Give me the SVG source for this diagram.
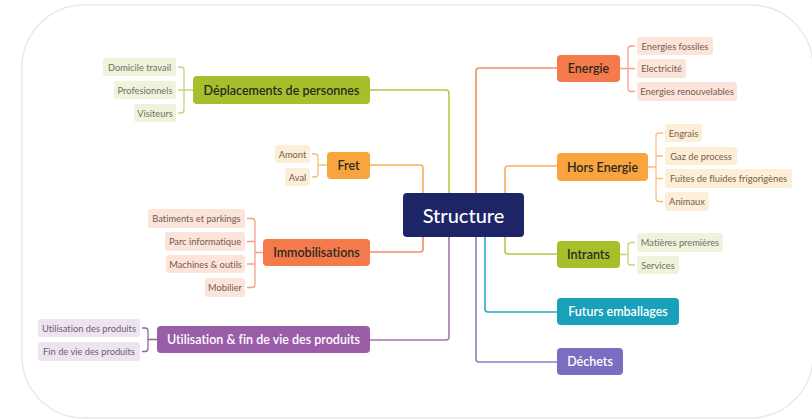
<svg xmlns="http://www.w3.org/2000/svg" width="812" height="419" viewBox="0 0 812 419">
<style>
text{font-family:Lato,"Liberation Sans",sans-serif;dominant-baseline:central;font-variant-ligatures:none;}
.n{font-size:12.5px;font-weight:600;text-anchor:middle;fill:#2a2a22;}
.nw{fill:#ffffff;}
.l{font-size:9.3px;text-anchor:middle;}
.c{fill:none;stroke-width:1.6;}
.b{fill:none;stroke-width:1.3;}
</style>
<rect x="22" y="5" width="791" height="413" rx="62" fill="#ffffff" stroke="#e9e9e9" stroke-width="1.5"/>
<g id="connectors">
<path class="c" stroke="#b3c84a" d="M449,193 V93 Q449,90 446,90 H370"/>
<path class="c" stroke="#f9b05a" d="M423,193 V168 Q423,165 420,165 H370"/>
<path class="c" stroke="#f58a64" d="M476,193 V71 Q476,68 479,68 H557"/>
<path class="c" stroke="#f9b05a" d="M505,193 V169 Q505,166 508,166 H557"/>
<path class="c" stroke="#f58a64" d="M423,237 V249 Q423,252 420,252 H370"/>
<path class="c" stroke="#a474b0" d="M449,237 V337 Q449,340 446,340 H370"/>
<path class="c" stroke="#8a7ec8" d="M476,237 V359 Q476,362 479,362 H557"/>
<path class="c" stroke="#2aaac2" d="M485,237 V309 Q485,312 488,312 H557"/>
<path class="c" stroke="#b3c84a" d="M505,237 V251 Q505,254 508,254 H557"/>
<path class="b" stroke="#c3d47a" d="M178,67 H181 Q184,67 184,70 V110 Q184,113 181,113 H178 M178,90 H193"/>
<path class="b" stroke="#f9bd7a" d="M312,154 H315 Q318,154 318,157 V174 Q318,177 315,177 H312 M318,165 H327"/>
<path class="b" stroke="#f6a083" d="M247,218.5 H252 Q255,218.5 255,221.5 V284.5 Q255,287.5 252,287.5 H247 M247,241.5 H255 M247,264 H255 M255,252.5 H263"/>
<path class="b" stroke="#8a6a94" d="M142,328 H145 Q148,328 148,331 V348.5 Q148,351.5 145,351.5 H142 M148,339.5 H157"/>
<path class="b" stroke="#f6a083" d="M620,68.5 H628 M635,46 H631 Q628,46 628,49 V88.5 Q628,91.5 631,91.5 H635 M628,68.5 H635"/>
<path class="b" stroke="#f9bd7a" d="M648,167 H656 M663,133 H659 Q656,133 656,136 V198.5 Q656,201.5 659,201.5 H663 M656,156 H663 M656,178.5 H663"/>
<path class="b" stroke="#c3d47a" d="M620,254.5 H628 M635,242.5 H631 Q628,242.5 628,245.5 V262 Q628,265 631,265 H635"/>
</g>
<g id="structure">
<rect x="403" y="193" width="121" height="44" rx="4" fill="#1e2566"/>
<text x="463.5" y="215" style="font-size:20px;font-weight:500;text-anchor:middle;fill:#fff">Structure</text>
</g>
<g id="deplacements">
<rect x="193" y="76" width="177" height="28" rx="4" fill="#a6bf2b"/>
<text class="n" x="281.5" y="90">Déplacements de personnes</text>
</g>
<g id="fret">
<rect x="327" y="152" width="43" height="27" rx="4" fill="#f9a43c"/>
<text class="n" x="348.5" y="165.5">Fret</text>
</g>
<g id="immobilisations">
<rect x="263" y="239" width="107" height="27" rx="4" fill="#f47a4c"/>
<text class="n" x="316.5" y="252.5">Immobilisations</text>
</g>
<g id="utilisation">
<rect x="157" y="326" width="213" height="27" rx="4" fill="#9a5ea8"/>
<text class="n nw" x="263.5" y="339.5">Utilisation &amp; fin de vie des produits</text>
</g>
<g id="energie">
<rect x="557" y="55" width="63" height="27" rx="4" fill="#f47a4c"/>
<text class="n" x="588.5" y="68.5">Energie</text>
</g>
<g id="hors-energie">
<rect x="557" y="153" width="91" height="28" rx="4" fill="#f9a43c"/>
<text class="n" x="602.5" y="167">Hors Energie</text>
</g>
<g id="intrants">
<rect x="557" y="241" width="63" height="27" rx="4" fill="#a6bf2b"/>
<text class="n" x="588.5" y="254.5">Intrants</text>
</g>
<g id="futurs-emballages">
<rect x="557" y="298" width="122" height="27" rx="4" fill="#19a0ba"/>
<text class="n nw" x="618" y="311.5">Futurs emballages</text>
</g>
<g id="dechets">
<rect x="557" y="348" width="66" height="27" rx="4" fill="#7b6dc0"/>
<text class="n nw" x="590" y="361.5">Déchets</text>
</g>
<g id="leaf-domicile"><rect x="103" y="58" width="73" height="18" rx="3" fill="#eef3dc"/><text class="l" x="139.5" y="67" fill="#6e7260">Domicile travail</text></g>
<g id="leaf-profesionnels"><rect x="114" y="81" width="62" height="18" rx="3" fill="#eef3dc"/><text class="l" x="145" y="90" fill="#6e7260">Profesionnels</text></g>
<g id="leaf-visiteurs"><rect x="134" y="104" width="42" height="18" rx="3" fill="#eef3dc"/><text class="l" x="155" y="113" fill="#6e7260">Visiteurs</text></g>
<g id="leaf-amont"><rect x="275" y="145" width="35" height="18" rx="3" fill="#fdeed8"/><text class="l" x="292.5" y="154" fill="#76604a">Amont</text></g>
<g id="leaf-aval"><rect x="285" y="168" width="25" height="18" rx="3" fill="#fdeed8"/><text class="l" x="297.5" y="177" fill="#76604a">Aval</text></g>
<g id="leaf-batiments"><rect x="148" y="209" width="97" height="19" rx="3" fill="#fde4da"/><text class="l" x="196.5" y="218.5" fill="#745a52">Batiments et parkings</text></g>
<g id="leaf-parc"><rect x="165" y="232" width="80" height="19" rx="3" fill="#fde4da"/><text class="l" x="205" y="241.5" fill="#745a52">Parc informatique</text></g>
<g id="leaf-machines"><rect x="166" y="255" width="79" height="18" rx="3" fill="#fde4da"/><text class="l" x="205.5" y="264" fill="#745a52">Machines &amp; outils</text></g>
<g id="leaf-mobilier"><rect x="205" y="278" width="40" height="19" rx="3" fill="#fde4da"/><text class="l" x="225" y="287.5" fill="#745a52">Mobilier</text></g>
<g id="leaf-utilisation-produits"><rect x="38" y="319" width="102" height="18" rx="3" fill="#ede4f0"/><text class="l" x="89" y="328" fill="#6a6070">Utilisation des produits</text></g>
<g id="leaf-fin-vie"><rect x="38" y="342" width="102" height="19" rx="3" fill="#ede4f0"/><text class="l" x="89" y="351.5" fill="#6a6070">Fin de vie des produits</text></g>
<g id="leaf-fossiles"><rect x="637" y="37" width="76" height="18" rx="3" fill="#fde4da"/><text class="l" x="675" y="46" fill="#745a52">Energies fossiles</text></g>
<g id="leaf-electricite"><rect x="637" y="59" width="49" height="19" rx="3" fill="#fde4da"/><text class="l" x="661.5" y="68.5" fill="#745a52">Electricité</text></g>
<g id="leaf-renouvelables"><rect x="637" y="82" width="100" height="19" rx="3" fill="#fde4da"/><text class="l" x="687" y="91.5" fill="#745a52">Energies renouvelables</text></g>
<g id="leaf-engrais"><rect x="665" y="124" width="37" height="18" rx="3" fill="#fdeed8"/><text class="l" x="683.5" y="133" fill="#76604a">Engrais</text></g>
<g id="leaf-gaz"><rect x="665" y="147" width="72" height="18" rx="3" fill="#fdeed8"/><text class="l" x="701" y="156" fill="#76604a">Gaz de process</text></g>
<g id="leaf-fuites"><rect x="665" y="169" width="127" height="19" rx="3" fill="#fdeed8"/><text class="l" x="728.5" y="178.5" fill="#76604a">Fuites de fluides frigorigènes</text></g>
<g id="leaf-animaux"><rect x="665" y="192" width="44" height="19" rx="3" fill="#fdeed8"/><text class="l" x="687" y="201.5" fill="#76604a">Animaux</text></g>
<g id="leaf-matieres"><rect x="637" y="233" width="86" height="19" rx="3" fill="#eef3dc"/><text class="l" x="680" y="242.5" fill="#6e7260">Matières premières</text></g>
<g id="leaf-services"><rect x="637" y="256" width="42" height="18" rx="3" fill="#eef3dc"/><text class="l" x="658" y="265" fill="#6e7260">Services</text></g>
</svg>
